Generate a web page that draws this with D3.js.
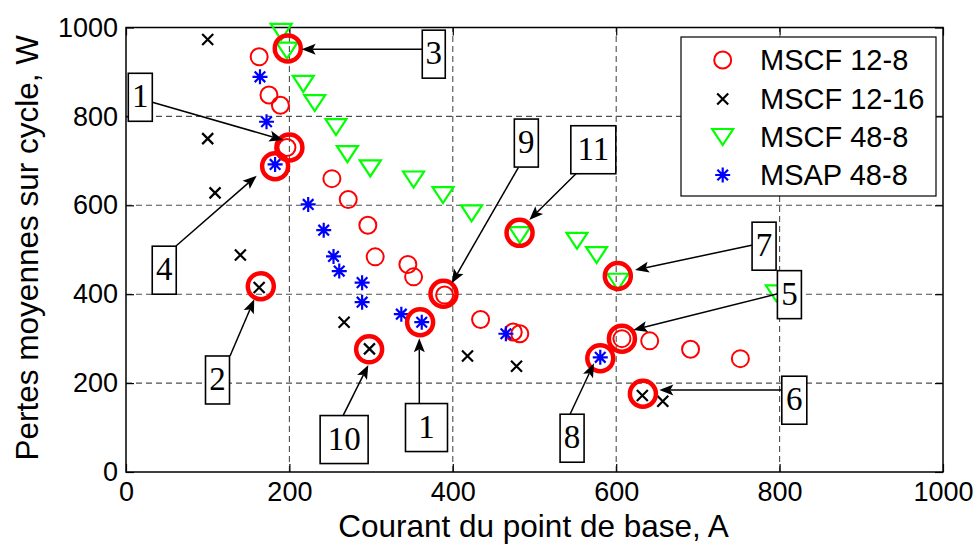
<!DOCTYPE html>
<html>
<head>
<meta charset="utf-8">
<script src="https://cdn.jsdelivr.net/npm/d3@7"></script>
<style>
  body { margin: 0; background: #fff; }
  svg { display: block; }
</style>
</head>
<body>
<svg id="chart" width="978" height="545"></svg>
<script>
// ---- data ----
const xTicks = [0, 200, 400, 600, 800, 1000];
const yTicks = [0, 200, 400, 600, 800, 1000];
const seriesNames = ["MSCF 12-8", "MSCF 12-16", "MSCF 48-8", "MSAP 48-8"];

// [courant A, pertes W]
const mscf128 = [[163,934],[175,848],[189,825],[197,730],[252,660],[272,613],[296,555],[305,484],
  [345,467],[352,439],[390,398],[434,343],[474,315],[482,311],[607,300],[641,295],[691,276],[752,255]];
const mscf1216 = [[100,973],[100,750],[109,628],[140,488],[163,415],[267,337],[298,277],[418,261],
  [478,238],[632,172],[657,159]];
const mscf488 = [[190,990],[197,948],[217,873],[231,830],[257,776],[271,715],[299,683],[352,658],
  [388,623],[423,582],[482,533],[552,520],[576,488],[602,428],[796,402]];
const msap488 = [[164,889],[172,788],[182.5,692],[223,602],[242,544],[254,485],[261,452],[289,426],
  [289,382],[337,355],[362,337],[465,311],[580.5,258]];

// selected operating points (thick rings)
const selected = [[200,730],[182.5,688],[198,953],[165,418],[297.6,276],[360,337],[580.5,256],
  [388.6,401],[481.7,538],[602,441],[607,300],[632.7,176]];

// numbered call-outs: label, arrow tail, arrow tip, box centre (all in data units)
const annotLabels = ["1","4","3","2","10","1","8","9","11","7","5","6"];
const annotTail = [[32.2,831.7],[61.2,508.4],[363.2,951],[127.3,261],[266,128],[359,154],
  [543.5,130],[480.2,685],[552.9,674.9],[767.1,510.7],[797.7,401],[802.6,184.5]];
const annotTip = [[192.5,747],[160,666.6],[215,951],[157,388.5],[296.6,240.7],[359,300.8],
  [572.8,244.5],[398.7,424.5],[493.6,567],[623,454.4],[621,319.5],[652.8,184.5]];
const annotBox = [[17.5,843],[46.8,454],[376.7,940],[112,207],[267,73],[367.8,100],
  [546,76],[490,740],[572,725],[781,508],[812,399],[818,161.5]];
const annotBoxW = [24,24,23,24,48,42,24,24,45,24,24,25];

// ---- layout ----
const plot = { left: 126, right: 943, top: 27.5, bottom: 472 };
const svg = d3.select("#chart");

const x = d3.scaleLinear().domain([0, 1000]).range([plot.left, plot.right]);
const y = d3.scaleLinear().domain([0, 1000]).range([plot.bottom, plot.top]);

const sansFont = "'Liberation Sans', Arial, Helvetica, sans-serif";
const serifFont = "'Liberation Serif', 'Times New Roman', serif";

// grid
const grid = svg.append("g").attr("stroke", "#4d4d4d").attr("stroke-width", 1.1)
  .attr("stroke-dasharray", "6,4").attr("fill", "none");
xTicks.filter(t => t > 0 && t < 1000).forEach(t => {
  grid.append("line").attr("x1", x(t)).attr("x2", x(t)).attr("y1", y(0)).attr("y2", y(1000));
});
yTicks.filter(t => t > 0 && t < 1000).forEach(t => {
  grid.append("line").attr("y1", y(t)).attr("y2", y(t)).attr("x1", x(0)).attr("x2", x(1000));
});

// axes (ticks point inward, on all four sides)
function styleAxis(g) {
  g.selectAll(".domain").remove();
  g.selectAll(".tick line").attr("stroke", "#000").attr("stroke-width", 1.2);
  g.selectAll(".tick text").attr("font-family", sansFont).attr("font-size", 27).attr("fill", "#000");
}
svg.append("g").attr("transform", `translate(0,${plot.bottom})`)
  .call(d3.axisBottom(x).tickValues(xTicks).tickSize(-8).tickPadding(10).tickFormat(d3.format("d")))
  .call(styleAxis);
svg.append("g").attr("transform", `translate(${plot.left},0)`)
  .call(d3.axisLeft(y).tickValues(yTicks).tickSize(-8).tickPadding(8).tickFormat(d3.format("d")))
  .call(styleAxis);
svg.append("g").attr("transform", `translate(0,${plot.top})`)
  .call(d3.axisTop(x).tickValues(xTicks).tickSize(-8).tickFormat(""))
  .call(styleAxis);
svg.append("g").attr("transform", `translate(${plot.right},0)`)
  .call(d3.axisRight(y).tickValues(yTicks).tickSize(-8).tickFormat(""))
  .call(styleAxis);

svg.append("rect").attr("x", plot.left).attr("y", plot.top)
  .attr("width", plot.right - plot.left).attr("height", plot.bottom - plot.top)
  .attr("fill", "none").attr("stroke", "#000").attr("stroke-width", 1.5);

// axis titles
svg.append("text").attr("x", (plot.left + plot.right) / 2 - 1).attr("y", 537)
  .attr("text-anchor", "middle").attr("font-family", sansFont).attr("font-size", 31.5)
  .text("Courant du point de base, A");
svg.append("text").attr("transform", `translate(38,${(plot.top + plot.bottom) / 2 - 2}) rotate(-90)`)
  .attr("text-anchor", "middle").attr("font-family", sansFont).attr("font-size", 31.5)
  .text("Pertes moyennes sur cycle, W");

// marker shapes
const markers = {
  circle: (g) => g.append("circle").attr("r", 8.5).attr("fill", "none")
    .attr("stroke", "#ff0000").attr("stroke-width", 2),
  cross: (g) => g.append("path").attr("d", "M-5.5,-5.5L5.5,5.5M-5.5,5.5L5.5,-5.5")
    .attr("stroke", "#000").attr("stroke-width", 2.2).attr("fill", "none"),
  triangle: (g) => g.append("path").attr("d", "M-10.5,-8L10.5,-8L0,8Z")
    .attr("stroke", "#00ff00").attr("stroke-width", 2.2).attr("fill", "none").attr("stroke-linejoin", "miter"),
  star: (g) => g.append("path")
    .attr("d", "M-7.5,0L7.5,0M0,-7.5L0,7.5M-5.3,-5.3L5.3,5.3M-5.3,5.3L5.3,-5.3")
    .attr("stroke", "#0000ff").attr("stroke-width", 2.2).attr("fill", "none")
};
const seriesData = [mscf128, mscf1216, mscf488, msap488];
const seriesMarker = ["circle", "cross", "triangle", "star"];

seriesData.forEach((data, i) => {
  const g = svg.append("g");
  data.forEach(d => {
    const m = g.append("g").attr("transform", `translate(${x(d[0])},${y(d[1])})`);
    markers[seriesMarker[i]](m);
  });
});

// thick rings round the selected points
svg.append("g").selectAll("circle").data(selected).join("circle")
  .attr("cx", d => x(d[0])).attr("cy", d => y(d[1])).attr("r", 13)
  .attr("fill", "none").attr("stroke", "#ff0000").attr("stroke-width", 4.5);

// legend
const legend = { x: 681, y: 37, w: 255, h: 159 };
svg.append("rect").attr("x", legend.x).attr("y", legend.y).attr("width", legend.w).attr("height", legend.h)
  .attr("fill", "#fff").attr("stroke", "#000").attr("stroke-width", 1.2);
const legendRowY = [60, 99, 137, 175];
seriesNames.forEach((name, i) => {
  const m = svg.append("g").attr("transform", `translate(722.7,${legendRowY[i]})`);
  markers[seriesMarker[i]](m);
  svg.append("text").attr("x", 760).attr("y", legendRowY[i]).attr("dy", "0.36em")
    .attr("font-family", sansFont).attr("font-size", 29).text(name);
});

// call-outs: arrow then boxed number
const ann = svg.append("g");
annotLabels.forEach((label, i) => {
  const tx = x(annotTail[i][0]), ty = y(annotTail[i][1]);
  const hx = x(annotTip[i][0]), hy = y(annotTip[i][1]);
  const ang = Math.atan2(hy - ty, hx - tx);
  const headLen = 14, headHalf = 5.5, notch = 3;
  const ux = Math.cos(ang), uy = Math.sin(ang);
  const bx = hx - ux * headLen, by = hy - uy * headLen;
  ann.append("line").attr("x1", tx).attr("y1", ty).attr("x2", hx - ux * (headLen - notch)).attr("y2", hy - uy * (headLen - notch))
    .attr("stroke", "#000").attr("stroke-width", 1.5);
  const pts = [
    [hx, hy],
    [bx - uy * headHalf, by + ux * headHalf],
    [hx - ux * (headLen - notch), hy - uy * (headLen - notch)],
    [bx + uy * headHalf, by - ux * headHalf]
  ];
  ann.append("path").attr("d", "M" + pts.map(p => p.join(",")).join("L") + "Z").attr("fill", "#000");

  const cx = x(annotBox[i][0]), cy = y(annotBox[i][1]);
  const bw = annotBoxW[i], bh = 48;
  ann.append("rect").attr("x", cx - bw / 2).attr("y", cy - bh / 2).attr("width", bw).attr("height", bh)
    .attr("fill", "#fff").attr("stroke", "#000").attr("stroke-width", 1.6);
  ann.append("text").attr("x", cx).attr("y", cy + 10).attr("text-anchor", "middle")
    .attr("font-family", serifFont).attr("font-size", 33).text(label);
});
</script>
</body>
</html>
